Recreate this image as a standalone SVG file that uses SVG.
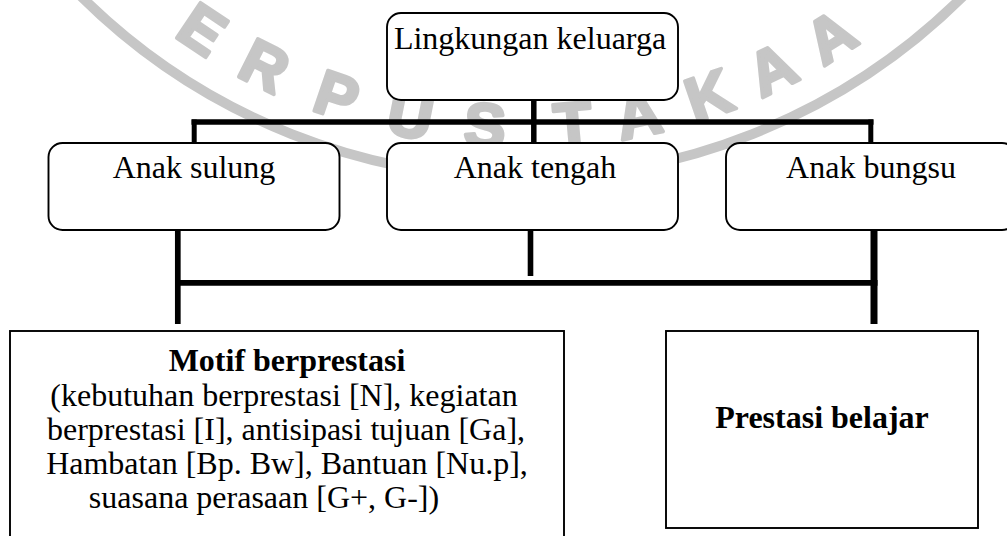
<svg xmlns="http://www.w3.org/2000/svg" width="1007" height="536" viewBox="0 0 1007 536">
<style>
.wm{font-family:"Liberation Sans",Arial,sans-serif;font-weight:bold;font-size:62px;fill:#c6c6c6;stroke:#c6c6c6;stroke-width:3.5;stroke-linejoin:round;text-anchor:middle}
.box{fill:#fff;stroke:#000;stroke-width:1.9}
.t{font-family:"Liberation Serif","Times New Roman",serif;font-size:32px;fill:#000;text-anchor:middle}
.b{font-weight:bold}
.c{stroke:#000;fill:none;stroke-linecap:butt}
</style>
<rect width="1007" height="536" fill="#fff"/>
<g id="watermark">
<circle cx="522" cy="-448" r="626" fill="none" stroke="#c6c6c6" stroke-width="10"/>
<text class="wm" x="522" y="148" transform="rotate(33.8 522 -448)">E</text>
<text class="wm" x="522" y="148" transform="rotate(26.6 522 -448)">R</text>
<text class="wm" x="522" y="148" transform="rotate(18.8 522 -448)">P</text>
<text class="wm" x="522" y="148" transform="rotate(11.2 522 -448)">U</text>
<text class="wm" x="522" y="148" transform="rotate(3.7 522 -448)">S</text>
<text class="wm" x="522" y="148" transform="rotate(-5.1 522 -448)">T</text>
<text class="wm" x="522" y="148" transform="rotate(-11.7 522 -448)">A</text>
<text class="wm" x="522" y="148" transform="rotate(-19 522 -448)">K</text>
<text class="wm" x="522" y="148" transform="rotate(-25.8 522 -448)">A</text>
<text class="wm" x="522" y="148" transform="rotate(-32.5 522 -448)">A</text>
</g>
<g id="lingkungan">
<rect class="box" x="387" y="13" width="291" height="87" rx="14"/>
<text class="t" x="530" y="49">Lingkungan keluarga</text>
</g>
<g id="sulung">
<rect class="box" x="48.5" y="143" width="291" height="87" rx="14"/>
<text class="t" x="194" y="178">Anak sulung</text>
</g>
<g id="tengah">
<rect class="box" x="387" y="143" width="291" height="87" rx="14"/>
<text class="t" x="535" y="178">Anak tengah</text>
</g>
<g id="bungsu">
<rect class="box" x="726" y="143" width="290" height="87" rx="14"/>
<text class="t" x="871" y="178">Anak bungsu</text>
</g>
<g id="motif">
<rect class="box" x="10" y="331" width="554" height="220"/>
<text class="t b" x="287" y="371">Motif berprestasi</text>
<text class="t" x="284" y="406">(kebutuhan berprestasi [N], kegiatan</text>
<text class="t" x="286" y="440">berprestasi [I], antisipasi tujuan [Ga],</text>
<text class="t" x="287" y="474">Hambatan [Bp. Bw], Bantuan [Nu.p],</text>
<text class="t" x="264" y="508">suasana perasaan [G+, G-])</text>
</g>
<g id="prestasi">
<rect class="box" x="666" y="331" width="312" height="197"/>
<text class="t b" x="822" y="428">Prestasi belajar</text>
</g>
<g id="connectors">
<line class="c" x1="191.5" y1="122" x2="873.5" y2="122" stroke-width="5.5"/>
<line class="c" x1="194.2" y1="119.5" x2="194.2" y2="143" stroke-width="5"/>
<line class="c" x1="533.8" y1="100" x2="533.8" y2="143" stroke-width="5.5"/>
<line class="c" x1="870.8" y1="119.5" x2="870.8" y2="143" stroke-width="5"/>
<line class="c" x1="177.8" y1="230" x2="177.8" y2="324" stroke-width="5.7"/>
<line class="c" x1="175" y1="282.8" x2="877.5" y2="282.8" stroke-width="5.7"/>
<line class="c" x1="530.5" y1="230" x2="530.5" y2="276" stroke-width="5.6"/>
<line class="c" x1="874" y1="230" x2="874" y2="324" stroke-width="7"/>
</g>
</svg>
